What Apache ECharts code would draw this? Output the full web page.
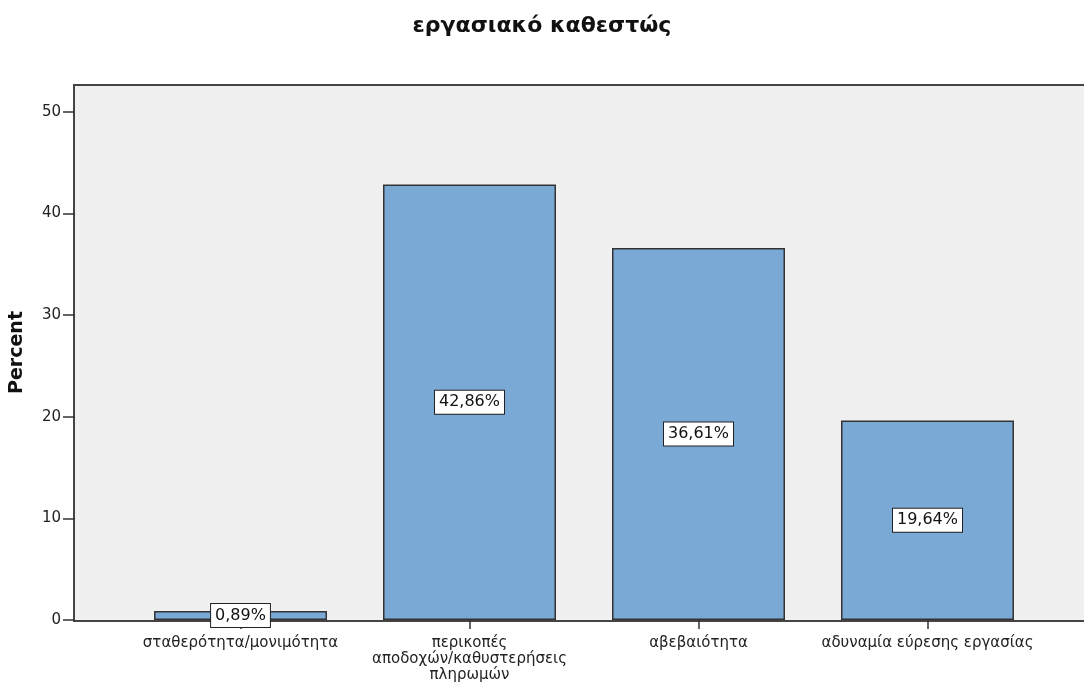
<!DOCTYPE html>
<html>
<head>
<meta charset="utf-8">
<script src="https://cdn.jsdelivr.net/npm/echarts@6/dist/echarts.min.js"></script>
<style>
  html, body { margin: 0; padding: 0; background: #ffffff; }
  #chart { width: 1084px; height: 683px; }
</style>
</head>
<body>
<div id="chart"></div>
<script>
// Employment status answers (percent of respondents)
const categories = [
  'σταθερότητα/μονιμότητα',
  'περικοπές\nαποδοχών/καθυστερήσεις\nπληρωμών',
  'αβεβαιότητα',
  'αδυναμία εύρεσης εργασίας'
];
const percents = [0.89, 42.86, 36.61, 19.64];
const yTicks = [0, 10, 20, 30, 40, 50];

const FONT = '"DejaVu Sans", sans-serif';

// Plot frame geometry (the shaded panel extends past the category band)
const frameLeft = 74, frameTop = 85, frameBottom = 621;
const gridLeft = 125, gridRight = 42;

const chart = echarts.init(document.getElementById('chart'));

chart.setOption({
  backgroundColor: '#ffffff',
  animation: false,
  title: {
    text: 'εργασιακό καθεστώς',
    left: 'center',
    top: 10,
    textStyle: { fontFamily: FONT, fontSize: 22, fontWeight: 'bold', color: '#111' }
  },
  graphic: [
    {
      type: 'rect',
      z: -10,
      silent: true,
      shape: { x: frameLeft, y: frameTop, width: 1084 - frameLeft + 20, height: frameBottom - frameTop },
      style: { fill: '#f0f0f0', stroke: '#444', lineWidth: 2 }
    }
  ],
  grid: {
    left: gridLeft,
    right: gridRight,
    top: frameTop,
    bottom: 683 - frameBottom,
    containLabel: false
  },
  xAxis: {
    type: 'category',
    data: categories,
    boundaryGap: true,
    axisLine: { show: false },
    axisTick: { show: true, alignWithLabel: true, length: 9, lineStyle: { color: '#333', width: 1.5 } },
    axisLabel: {
      margin: 15,
      fontFamily: FONT,
      fontSize: 15,
      color: '#222',
      lineHeight: 16,
      interval: 0
    }
  },
  yAxis: {
    type: 'value',
    min: 0,
    max: 52.65,
    interval: 10,
    offset: gridLeft - frameLeft,
    name: 'Percent',
    nameLocation: 'middle',
    nameGap: 48,
    nameRotate: 90,
    nameTextStyle: { fontFamily: FONT, fontSize: 19, fontWeight: 'bold', color: '#111' },
    splitLine: { show: false },
    axisLine: { show: false },
    axisTick: {
      show: true,
      length: 12,
      customValues: yTicks,
      lineStyle: { color: '#333', width: 1.5 }
    },
    axisLabel: {
      margin: 14,
      customValues: yTicks,
      fontFamily: FONT,
      fontSize: 15,
      color: '#222'
    }
  },
  series: [{
    type: 'bar',
    data: percents,
    barWidth: 173,
    itemStyle: { color: '#7aa9d6', borderColor: '#333', borderWidth: 1.5 },
    label: {
      show: true,
      position: 'inside',
      formatter: p => p.value.toFixed(2).replace('.', ',') + '%',
      fontFamily: FONT,
      fontSize: 16,
      color: '#111',
      backgroundColor: '#ffffff',
      borderColor: '#222',
      borderWidth: 1,
      padding: [4, 4, 3, 4]
    }
  }]
});
</script>
</body>
</html>
